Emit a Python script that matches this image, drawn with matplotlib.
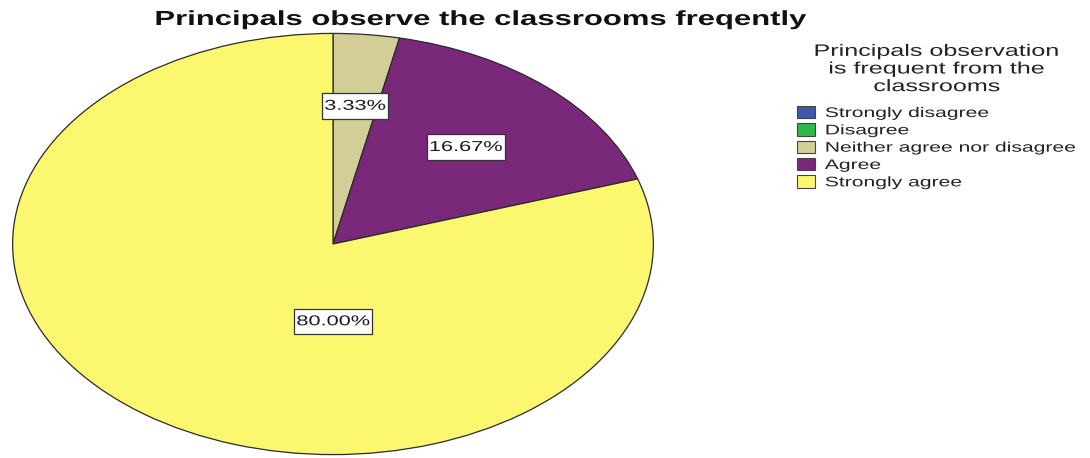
import matplotlib
matplotlib.use("Agg")
import matplotlib.pyplot as plt
from matplotlib.patches import Patch
from matplotlib.patheffects import AbstractPathEffect
from matplotlib.transforms import Affine2D
from matplotlib.path import Path
import numpy as np

plt.rcParams['font.family'] = ['Liberation Sans', 'DejaVu Sans']

categories = ["Strongly disagree", "Disagree", "Neither agree nor disagree", "Agree", "Strongly agree"]
percents = [0.0, 0.0, 3.33, 16.67, 80.00]
colors = ["#3E58AC", "#2EB848", "#D3CE97", "#79287A", "#FBF870"]

# Horizontal stretch applied to all glyphs (wide, low layout)
SX = 1.52


class HStretch(AbstractPathEffect):
    """Stretch glyph outlines horizontally, about the line centre or its left edge."""

    def __init__(self, sx, about="center"):
        super().__init__()
        self.sx = sx
        self.about = about

    def draw_path(self, renderer, gc, tpath, affine, rgbFace=None):
        if self.about == "center":
            ext = tpath.get_extents()
            cx = 0.5 * (ext.x0 + ext.x1)
        else:
            cx = 0.0
        pre = Affine2D().translate(-cx, 0).scale(self.sx, 1).translate(cx, 0)
        renderer.draw_path(gc, tpath, pre + affine, rgbFace)


def label_box(x0, y0, width, height, mutation_size):
    """Rectangle around a stretched label, with separate x/y padding."""
    cx = x0 + width / 2
    w = width * SX + 2 * 0.17 * mutation_size
    py = 0.40 * mutation_size
    xa, xb = cx - w / 2, cx + w / 2
    ya, yb = y0 - py, y0 + height + py
    return Path([(xa, ya), (xb, ya), (xb, yb), (xa, yb), (xa, ya)], closed=True)


fig = plt.figure(figsize=(10.9, 4.58), dpi=100)
fig.patch.set_facecolor("white")

# Stretched pie: axes spans an ellipse wider than tall
ax = fig.add_axes([12/1090, 3/458, 642/1090, 422/458])
wedges, _ = ax.pie(percents, colors=colors, startangle=90, counterclock=False,
                   radius=1.0, wedgeprops=dict(edgecolor="#2a2a2a", linewidth=0.9))
ax.set_xlim(-1.002, 1.002)
ax.set_ylim(-1.002, 1.002)
ax.set_aspect("auto")
ax.axis("off")

# Percentage labels in boxed text
label_r = {2: 0.66, 3: 0.62}
start = 90.0
for i, p in enumerate(percents):
    sweep = p / 100 * 360
    mid = start - sweep / 2
    start -= sweep
    if p <= 0:
        continue
    if i in label_r:
        r = label_r[i]
        x, y = r * np.cos(np.radians(mid)), r * np.sin(np.radians(mid))
    else:
        x, y = 0.0, -0.367
    t = ax.text(x, y, f"{p:.2f}%", ha="center", va="center", fontsize=10.3, color="#1a1a1a",
                bbox=dict(boxstyle=label_box, facecolor="white", edgecolor="#333333", linewidth=0.9))
    t.set_path_effects([HStretch(SX)])

title = fig.text(480/1090, 1 - 19.5/458, "Principals observe the classrooms freqently",
                 ha="center", va="center", fontsize=14.7, fontweight="bold", color="#111111")
title.set_path_effects([HStretch(SX)])

ltitle = fig.text(937/1090, 1 - 69/458, "Principals observation\nis frequent from the\nclassrooms",
                  ha="center", va="center", fontsize=11.9, color="#222222", linespacing=1.22)
ltitle.set_path_effects([HStretch(SX)])

handles = [Patch(facecolor=c, edgecolor="#444444", linewidth=0.8) for c in colors]
leg = fig.legend(handles, categories, loc="upper left", bbox_to_anchor=(797/1090, 1 - 106/458),
                 frameon=False, fontsize=10, handlelength=1.3, handleheight=1.0,
                 handletextpad=0.7, labelspacing=0.24, borderpad=0, borderaxespad=0)
for t in leg.get_texts():
    t.set_color("#222222")
    t.set_path_effects([HStretch(SX, about="left")])

fig.savefig("out.png", dpi=100, facecolor="white")
